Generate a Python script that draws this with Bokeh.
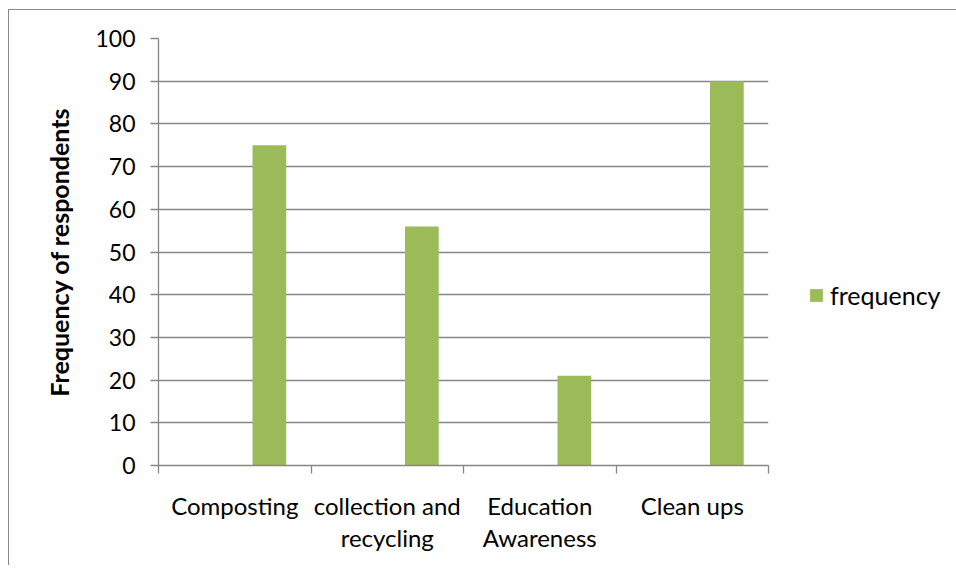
from bokeh.plotting import figure
from bokeh.models import (ColumnDataSource, Range1d, FixedTicker, CustomJSTickFormatter,
                          Legend, LegendItem)
from bokeh.transform import dodge
from bokeh.embed import file_html
from bokeh.resources import INLINE

categories = ["Composting", "collection and\nrecycling", "Education\nAwareness", "Clean ups"]
frequency = [75, 56, 21, 90]
series_name = "frequency"
y_ticks = [0, 10, 20, 30, 40, 50, 60, 70, 80, 90, 100]

GRAY = "#868686"
GREEN = "#9BBB59"
FONT = "Lato"

src = ColumnDataSource(dict(x=[i + 0.5 for i in range(len(categories))], y=frequency))

p = figure(output_backend="svg", toolbar_location=None,
           frame_width=610, frame_height=427,
           min_border_left=149, min_border_right=180, min_border_top=28, min_border_bottom=100,
           x_range=Range1d(0, len(categories)), y_range=Range1d(0, 100),
           background_fill_color="white", border_fill_color="white", outline_line_color=None)
p.styles = {"margin-left": "8px", "margin-top": "9px",
            "border-left": "1px solid #8a8a8a", "border-top": "1px solid #8a8a8a"}

r = p.vbar(x=dodge("x", 0.227, range=p.x_range), top="y", width=0.221, source=src,
           fill_color=GREEN, line_color=None)

p.xgrid.visible = False
p.ygrid.grid_line_color = GRAY
p.ygrid.grid_line_width = 1.3
p.ygrid.ticker = FixedTicker(ticks=y_ticks)

ya = p.yaxis[0]
ya.ticker = FixedTicker(ticks=y_ticks)
ya.axis_line_color = GRAY
ya.axis_line_width = 1.3
ya.major_tick_line_color = GRAY
ya.major_tick_line_width = 1.3
ya.major_tick_out = 8
ya.major_tick_in = 0
ya.minor_tick_line_color = None
ya.major_label_text_font = FONT
ya.major_label_text_font_size = "23px"
ya.major_label_text_color = "black"
ya.major_label_standoff = 15
ya.axis_label = "Frequency of respondents"
ya.axis_label_text_font = FONT
ya.axis_label_text_font_size = "25px"
ya.axis_label_text_font_style = "bold"
ya.axis_label_text_color = "black"
ya.axis_label_standoff = 18

xa = p.xaxis[0]
xa.ticker = FixedTicker(ticks=src.data["x"], minor_ticks=list(range(len(categories) + 1)))
xa.formatter = CustomJSTickFormatter(args=dict(labels=categories),
                                     code="return labels[Math.floor(tick)];")
xa.axis_line_color = GRAY
xa.axis_line_width = 1.3
xa.major_tick_line_color = None
xa.major_tick_out = 0
xa.major_tick_in = 0
xa.minor_tick_line_color = GRAY
xa.minor_tick_line_width = 1.3
xa.minor_tick_out = 8
xa.minor_tick_in = 0
xa.major_label_text_font = FONT
xa.major_label_text_font_size = "24px"
xa.major_label_text_color = "black"
xa.major_label_text_line_height = 1.12
xa.major_label_standoff = 17

legend = Legend(items=[LegendItem(label=series_name, renderers=[r])],
                location=(40, 155), border_line_color=None, background_fill_alpha=0,
                margin=0, padding=0, glyph_width=16, glyph_height=16, label_standoff=6,
                label_text_font=FONT, label_text_font_size="25px", label_text_color="black")
p.add_layout(legend, "right")

open("out.html", "w").write(file_html(p, INLINE))
